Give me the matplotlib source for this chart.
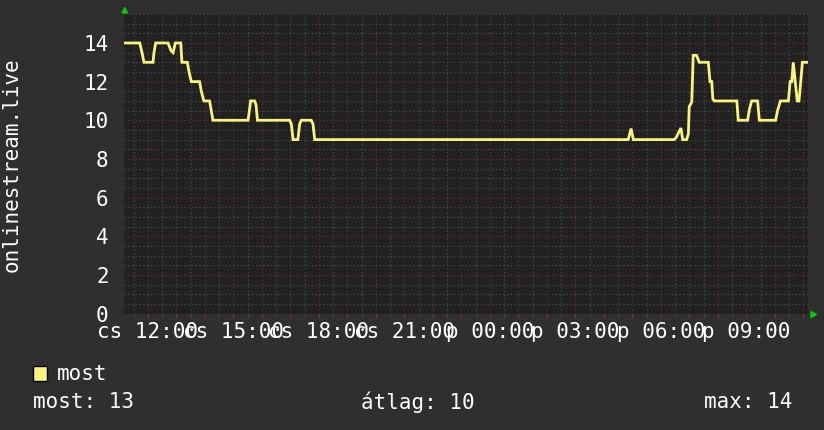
import matplotlib
matplotlib.use('Agg')
import matplotlib.pyplot as plt
from matplotlib.ticker import MultipleLocator, FuncFormatter
from matplotlib.patches import Rectangle, Polygon

# ---- data (x = hours since Thursday 00:00) ----
hours = [11.18, 11.71, 11.79, 11.86, 12.175, 12.21, 12.27, 12.70, 12.81, 12.88,
         12.96, 13.15, 13.19, 13.38, 13.44, 13.52, 13.81, 13.87, 13.96, 14.16,
         14.22, 14.28, 15.51, 15.54, 15.60, 15.74, 15.79, 15.84, 16.97, 17.03,
         17.09, 17.26, 17.32, 17.38, 17.73, 17.79, 17.85, 28.85, 28.95, 29.03,
         30.46, 30.53, 30.61, 30.70, 30.76, 30.90, 30.96, 30.99, 31.08, 31.13,
         31.25, 31.34, 31.66, 31.72, 31.78, 31.82, 31.87, 32.66, 32.71, 33.04,
         33.10, 33.18, 33.39, 33.45, 34.02, 34.09, 34.19, 34.47, 34.53, 34.59,
         34.64, 34.70, 34.78, 34.84, 34.88, 34.96, 35.11]
values = [14, 14, 13.5, 13, 13, 13.5, 14, 14, 13.6, 13.5,
          14, 14, 13, 13, 12.5, 12, 12, 11.5, 11, 11,
          10.5, 10, 10, 10.3, 11, 11, 10.8, 10, 10, 9.8,
          9, 9, 9.8, 10, 10, 9.8, 9, 9, 9.57, 9,
          9, 9.1, 9.34, 9.6, 9, 9, 9.3, 10.7, 10.95, 13.36,
          13.36, 13, 13, 12, 12, 11.1, 11, 11, 10, 10,
          10.55, 11, 11, 10, 10, 10.5, 11, 11, 12, 12,
          13, 12.15, 11, 11, 11.6, 13, 13]

tick_hours = [12, 15, 18, 21, 24, 27, 30, 33]
tick_labels = ['cs 12:00', 'cs 15:00', 'cs 18:00', 'cs 21:00',
               'p 00:00', 'p 03:00', 'p 06:00', 'p 09:00']
x_range = [11.158, 35.158]
y_range = [0, 15.5]
y_label = 'onlinestream.live'
series_name = 'most'
stat_names = ['most', 'átlag', 'max']
stat_values = [13, 10, 14]

# ---- style ----
W, H = 824, 430
BG = '#2f2f2f'
PLOT_BG = '#212121'
LINE = '#f8f47c'
TXT = '#ffffff'
FONT = 'DejaVu Sans Mono'
FS = 15

fig = plt.figure(figsize=(W / 100, H / 100), dpi=100, facecolor=BG)
ax = fig.add_axes([124 / W, (H - 313.5) / H, 684 / W, (313.5 - 14) / H])
ax.set_facecolor(PLOT_BG)
ax.set_xlim(*x_range)
ax.set_ylim(*y_range)

for s in ax.spines.values():
    s.set_visible(False)

ax.xaxis.set_major_locator(MultipleLocator(1))
ax.xaxis.set_minor_locator(MultipleLocator(0.5))
ax.yaxis.set_major_locator(MultipleLocator(2))
ax.yaxis.set_minor_locator(MultipleLocator(0.5))

lab_map = dict(zip(tick_hours, tick_labels))
ax.xaxis.set_major_formatter(FuncFormatter(lambda v, p: lab_map.get(int(round(v)), '')
                                            if abs(v - round(v)) < 1e-6 else ''))
ax.yaxis.set_major_formatter(FuncFormatter(lambda v, p: '%d' % v))

ax.grid(which='minor', color='#4a4a4a', linestyle=(0, (1, 2)), linewidth=0.9)
ax.grid(which='major', color='#6a3030', linestyle=(0, (1, 2)), linewidth=0.9)
ax.set_axisbelow(True)

ax.tick_params(axis='x', which='major', length=3, color='#7a3434', direction='out',
               pad=3, labelsize=FS, labelcolor=TXT)
ax.tick_params(axis='x', which='minor', length=2, color='#4e4e4e', direction='out')
ax.tick_params(axis='y', which='both', length=0, pad=11, labelsize=FS, labelcolor=TXT)
for lab in ax.get_xticklabels() + ax.get_yticklabels():
    lab.set_family(FONT)

ax.plot(hours, values, color=LINE, linewidth=2.0, solid_joinstyle='miter', zorder=3)

# y label
fig.text(12 / W, 1 - 165 / H, y_label, rotation=90, ha='center', va='center',
         color=TXT, fontsize=FS, family=FONT)

# arrows
fig.patches.append(Polygon([[122 / W, 1 - 13 / H], [127.5 / W, 1 - 13 / H], [124.7 / W, 1 - 7.5 / H]],
                           closed=True, transform=fig.transFigure, color='#00cc00'))
fig.patches.append(Polygon([[811 / W, 1 - 311.5 / H], [811 / W, 1 - 317.5 / H], [816.5 / W, 1 - 314.5 / H]],
                           closed=True, transform=fig.transFigure, color='#00cc00'))

# legend
fig.patches.append(Rectangle((33 / W, 1 - 381 / H), 14 / W, 15 / H, transform=fig.transFigure,
                             facecolor=LINE, edgecolor='black', linewidth=1))
fig.text(57 / W, 1 - 374 / H, series_name, ha='left', va='center', color=TXT,
         fontsize=FS, family=FONT)

stat_x = [33, 361, 792]
stat_ha = ['left', 'left', 'right']
for name, val, x, ha in zip(stat_names, stat_values, stat_x, stat_ha):
    fig.text(x / W, 1 - 402 / H, '%s: %d' % (name, val), ha=ha, va='center',
             color=TXT, fontsize=FS, family=FONT)

fig.savefig('out.png', dpi=100, facecolor=BG)
